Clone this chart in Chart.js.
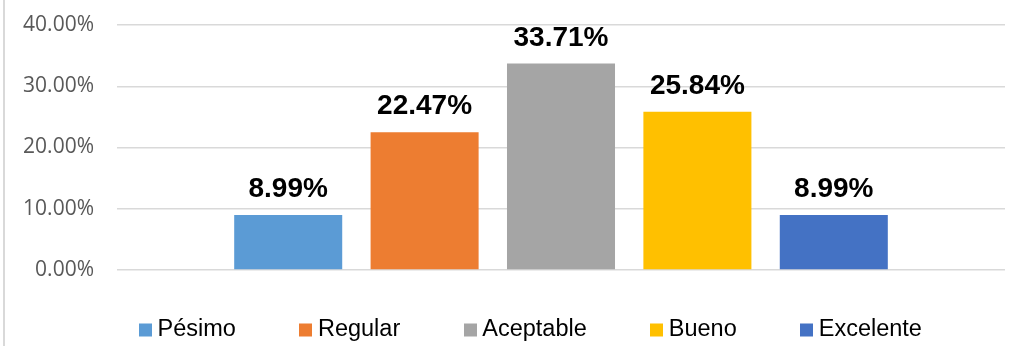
<!DOCTYPE html>
<html lang="es">
<head>
<meta charset="utf-8">
<title>Valoración</title>
<script src="https://cdn.jsdelivr.net/npm/chart.js@4.4.1/dist/chart.umd.min.js"></script>
<style>
  html, body { margin: 0; padding: 0; background: #fff; overflow: hidden; }
  #wrap { position: relative; width: 1020px; height: 346px; }
  #edge { position: absolute; left: 3px; top: 0; width: 2px; height: 346px; background: #d9d9d9; }
  canvas { position: absolute; left: 0; top: 0; }
</style>
</head>
<body>
<div id="wrap">
  <canvas id="chart" width="1020" height="346"></canvas>
  <div id="edge"></div>
</div>
<script>
// Rating categories and their share of responses (%)
const categories = ['Pésimo', 'Regular', 'Aceptable', 'Bueno', 'Excelente'];
const percentages = [8.99, 22.47, 33.71, 25.84, 8.99];
const yTicks = [0, 10, 20, 30, 40];

// Office-style palette, one colour per category
const palette = ['#5B9BD5', '#ED7D31', '#A5A5A5', '#FFC000', '#4472C4'];

const fmt = v => v.toFixed(2) + '%';

// Value labels above each bar
const valueLabels = {
  id: 'valueLabels',
  afterDatasetsDraw(chart) {
    const ctx = chart.ctx;
    ctx.save();
    ctx.font = 'bold 28px "Liberation Sans", Arial, sans-serif';
    ctx.fillStyle = '#000';
    ctx.textAlign = 'center';
    ctx.textBaseline = 'alphabetic';
    chart.data.datasets.forEach((ds, i) => {
      const bar = chart.getDatasetMeta(i).data[0];
      if (!bar) return;
      ctx.fillText(fmt(ds.data[0]), bar.x, bar.y - 18);
    });
    ctx.restore();
  }
};

// Legend row under the plot: square swatch, short gap, label
const bottomLegend = {
  id: 'bottomLegend',
  afterDraw(chart) {
    const ctx = chart.ctx;
    const box = 13, gap = 5.5, spacing = 63.5, centerX = 530.5, y = 330;
    ctx.save();
    ctx.font = '23.5px "Liberation Sans", Arial, sans-serif';
    ctx.textBaseline = 'middle';
    ctx.textAlign = 'left';
    const items = chart.data.datasets.map(ds => ({
      text: ds.label, color: ds.backgroundColor,
      w: box + gap + ctx.measureText(ds.label).width
    }));
    const total = items.reduce((s, it) => s + it.w, 0) + spacing * (items.length - 1);
    let x = centerX - total / 2;
    items.forEach(it => {
      ctx.fillStyle = it.color;
      ctx.fillRect(Math.round(x), y - box / 2, box, box);
      ctx.fillStyle = '#000';
      ctx.fillText(it.text, x + box + gap, y);
      x += it.w + spacing;
    });
    ctx.restore();
  }
};

new Chart(document.getElementById('chart'), {
  type: 'bar',
  data: {
    labels: [''],
    datasets: categories.map((name, i) => ({
      label: name,
      data: [percentages[i]],
      backgroundColor: palette[i],
      categoryPercentage: 0.768,
      barPercentage: 0.792
    }))
  },
  options: {
    responsive: false,
    animation: false,
    events: [],
    layout: { padding: { top: 25, right: 15, bottom: 76, left: 0 } },
    plugins: {
      legend: { display: false },
      tooltip: { enabled: false }
    },
    scales: {
      x: { display: false },
      y: {
        min: 0,
        max: 40,
        afterBuildTicks(scale) { scale.ticks = yTicks.map(v => ({ value: v })); },
        afterFit(scale) { scale.width = 117; },
        border: { display: false },
        grid: {
          color: '#d9d9d9',
          lineWidth: 1.5,
          drawTicks: true,
          tickLength: 23,
          tickColor: 'rgba(0,0,0,0)'
        },
        ticks: {
          padding: 0,
          color: '#595959',
          font: { family: '"Open Sans", sans-serif', size: 21 },
          callback: v => fmt(v)
        }
      }
    }
  },
  plugins: [valueLabels, bottomLegend]
});
</script>
</body>
</html>
